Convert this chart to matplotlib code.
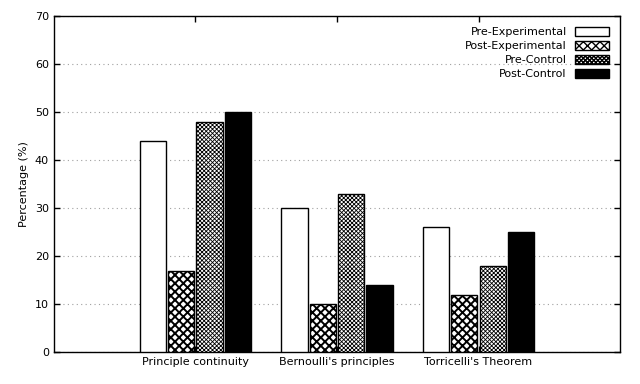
import numpy as np
import matplotlib
matplotlib.use("Agg")
import matplotlib.pyplot as plt

categories = ["Principle continuity", "Bernoulli's principles", "Torricelli's Theorem"]
pre_experimental = [44, 30, 26]
post_experimental = [17, 10, 12]
pre_control = [48, 33, 18]
post_control = [50, 14, 25]

# label, values, fill, hatch, hatch line width
series = [
    ("Pre-Experimental", pre_experimental, "white", None, 1.0),
    ("Post-Experimental", post_experimental, "white", "xxxx", 1.4),
    ("Pre-Control", pre_control, "white", "xxxxxxxx", 0.6),
    ("Post-Control", post_control, "black", None, 1.0),
]

plt.rcParams["font.family"] = "DejaVu Sans"
plt.rcParams["font.size"] = 8

fig = plt.figure(figsize=(6.4, 3.84), dpi=100)
ax = fig.add_axes([0.084, 0.083, 0.885, 0.875])

x = np.arange(len(categories))
width = 0.185
step = 0.2
for i, (label, vals, color, hatch, hlw) in enumerate(series):
    plt.rcParams["hatch.linewidth"] = hlw
    offs = (i - 1.5) * step
    ax.bar(x + offs, vals, width, color=color, edgecolor="black",
           hatch=hatch, linewidth=1.0, label=label, zorder=3)

ax.set_xlim(-1, 3)
ax.set_ylim(0, 70)
ax.set_yticks(range(0, 71, 10))
ax.set_xticks(x)
ax.set_xticklabels(categories)
ax.set_ylabel("Percentage (%)")
ax.yaxis.grid(True, linestyle=(0, (1, 3)), color="#a0a0a0", linewidth=0.8, zorder=0)
ax.tick_params(direction="in", top=True, right=True, length=4, width=1)
for s in ax.spines.values():
    s.set_linewidth(1.0)

ax.legend(loc="upper right", frameon=False, markerfirst=False,
          handlelength=3.1, handleheight=0.8, labelspacing=0.35,
          handletextpad=0.7, borderaxespad=0.6, fontsize=8)

fig.savefig("out.png", dpi=100)
